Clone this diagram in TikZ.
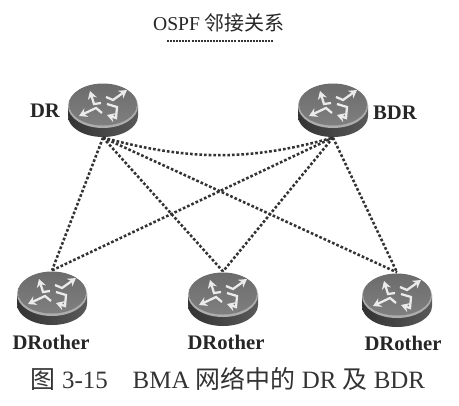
\documentclass[tikz,border=0pt]{standalone}
\usepackage{fontspec}
\usepackage{tikz}
\usetikzlibrary{arrows.meta}
\setmainfont{Liberation Serif}
\newfontfamily\cjk{Noto Sans CJK SC}
\definecolor{linkdark}{gray}{0.2}
\tikzset{
  x=0.75pt,y=-0.75pt,
  routerbox/.style={minimum width=52.5pt,minimum height=41pt,inner sep=0pt},
  routerarrow/.style={white!92!black,line width=1.7pt,-{Stealth[length=6pt,width=7pt]}},
  link/.style={linkdark,line width=1.9pt,dash pattern=on 2pt off 1.5pt},
  routername/.style={font=\fontsize{15.5}{15.5}\selectfont\bfseries,text=black!85},
}
\newcommand{\router}[2]{%
  \begin{scope}[shift={(#2)}]
    \shade[left color=black!80,right color=black!65] (-35,-5) -- (-35,6) arc[start angle=180,end angle=0,x radius=35,y radius=21] -- (35,-5) -- cycle;
    \fill[black!32] (0,-4) ellipse (35 and 22);
    \shade[top color=black!58,bottom color=black!50] (0,-5.5) ellipse (34 and 21);
    \begin{scope}[shift={(0,-5)}]
      \draw[routerarrow] (-2,-2) -- (-9,-1) -- (-13,-14);
      \draw[routerarrow] (3,-8) -- (10,-5) -- (24,-15);
      \draw[routerarrow] (-1,8) -- (-7,3) -- (-24,11);
      \draw[routerarrow] (4,-1) -- (14,2) -- (13,13) -- (4,10);
    \end{scope}
  \end{scope}
  \node[routerbox] (#1) at (#2) {};}

\begin{document}
\begin{tikzpicture}
\fill[white] (0,0) rectangle (459,405);

\node[font=\fontsize{14.7}{15}\selectfont,text=black!85] (title) at (219,23) {OSPF {\cjk\fontsize{15}{15}\selectfont 邻接关系}};
\coordinate (ruleleft) at (167,40.5);
\coordinate (ruleright) at (273,40.5);
\draw[linkdark,line width=1.5pt,dash pattern=on 1.5pt off 0.8pt] (ruleleft) -- (ruleright);

\router{dr}{103,110}
\router{bdr}{333,110}
\router{oleft}{52,298}
\router{omid}{223,299}
\router{oright}{397,300}

\node[routername] (drname) at (45,111) {DR};
\node[routername] (bdrname) at (395,113) {BDR};
\node[routername] (oleftname) at (51,342) {DRother};
\node[routername] (omidname) at (226,342) {DRother};
\node[routername] (orightname) at (403,343) {DRother};

\node[font=\fontsize{18.7}{19}\selectfont,text=black!80] (caption) at (228,379) {{\cjk 图} 3-15\hspace{1em}BMA {\cjk 网络中的} DR {\cjk 及} BDR};

\foreach \from in {dr,bdr}
  \foreach \to in {oleft,omid,oright}
    \draw[link] (\from.south) -- (\to.north);

\draw[link] (dr.south) .. controls (190,161) and (250,161) .. (bdr.south);

\end{tikzpicture}
\end{document}
